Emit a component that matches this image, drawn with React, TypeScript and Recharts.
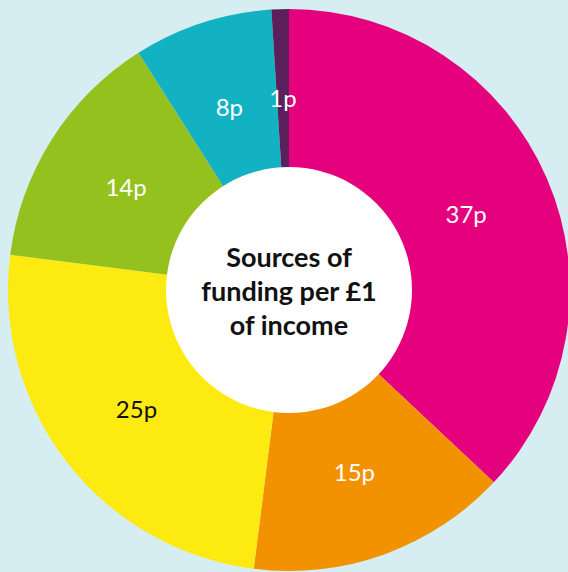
import * as React from 'react';
import { PieChart, Pie, Cell } from 'recharts';

// pence per £1 of income, clockwise from 12 o'clock
const slices = ['s1', 's2', 's3', 's4', 's5', 's6'];
const pence = [37, 15, 25, 14, 8, 1];
const centreLines = ['Sources of', 'funding per £1', 'of income'];

const sliceColors = ['#e5007e', '#f39200', '#fdea11', '#95c11f', '#13b2c3', '#5b1f5c'];
const labelColors = ['#fff', '#fff', '#111', '#fff', '#fff', '#fff'];

const RAD = Math.PI / 180;
const FONT = 'Lato, "Open Sans", sans-serif';

const renderLabel = (props: any) => {
  const { cx, cy, midAngle, index, value } = props;
  const r = 193;
  const x = cx + r * Math.cos(-midAngle * RAD);
  const y = cy + r * Math.sin(-midAngle * RAD);
  return (
    <text
      x={x}
      y={y}
      fill={labelColors[index]}
      textAnchor="middle"
      dominantBaseline="central"
      fontFamily={FONT}
      fontSize={24}
    >
      {`${value}p`}
    </text>
  );
};

// single white slice: its label is the centre caption
const renderCentre = (props: any) => {
  const { cx, cy } = props;
  return (
    <text
      textAnchor="middle"
      fontFamily={FONT}
      fontSize={27}
      fontWeight={700}
      fill="#111"
    >
      {centreLines.map((line, i) => (
        <tspan key={line} x={cx} y={cy + (i - 1) * 34} dominantBaseline="central">
          {line}
        </tspan>
      ))}
    </text>
  );
};

export default function App() {
  const data = slices.map((name, i) => ({ name, value: pence[i] }));

  return (
    <div
      style={{
        position: 'absolute',
        left: 0,
        top: 0,
        width: 568,
        height: 572,
        background: '#d6eef2',
        overflow: 'hidden'
      }}
    >
      <PieChart width={568} height={572} margin={{ top: 0, right: 0, bottom: 0, left: 0 }}>
        <Pie
          data={data}
          dataKey="value"
          cx={289}
          cy={290}
          innerRadius={122}
          outerRadius={281}
          startAngle={90}
          endAngle={-270}
          stroke="none"
          label={renderLabel}
          labelLine={false}
          isAnimationActive={false}
        >
          {data.map((d, i) => (
            <Cell key={d.name} fill={sliceColors[i]} />
          ))}
        </Pie>
        <Pie
          data={[{ name: 'centre', value: 1 }]}
          dataKey="value"
          cx={289}
          cy={290}
          innerRadius={0}
          outerRadius={123}
          fill="#ffffff"
          stroke="none"
          label={renderCentre}
          labelLine={false}
          isAnimationActive={false}
        />
      </PieChart>
    </div>
  );
}
